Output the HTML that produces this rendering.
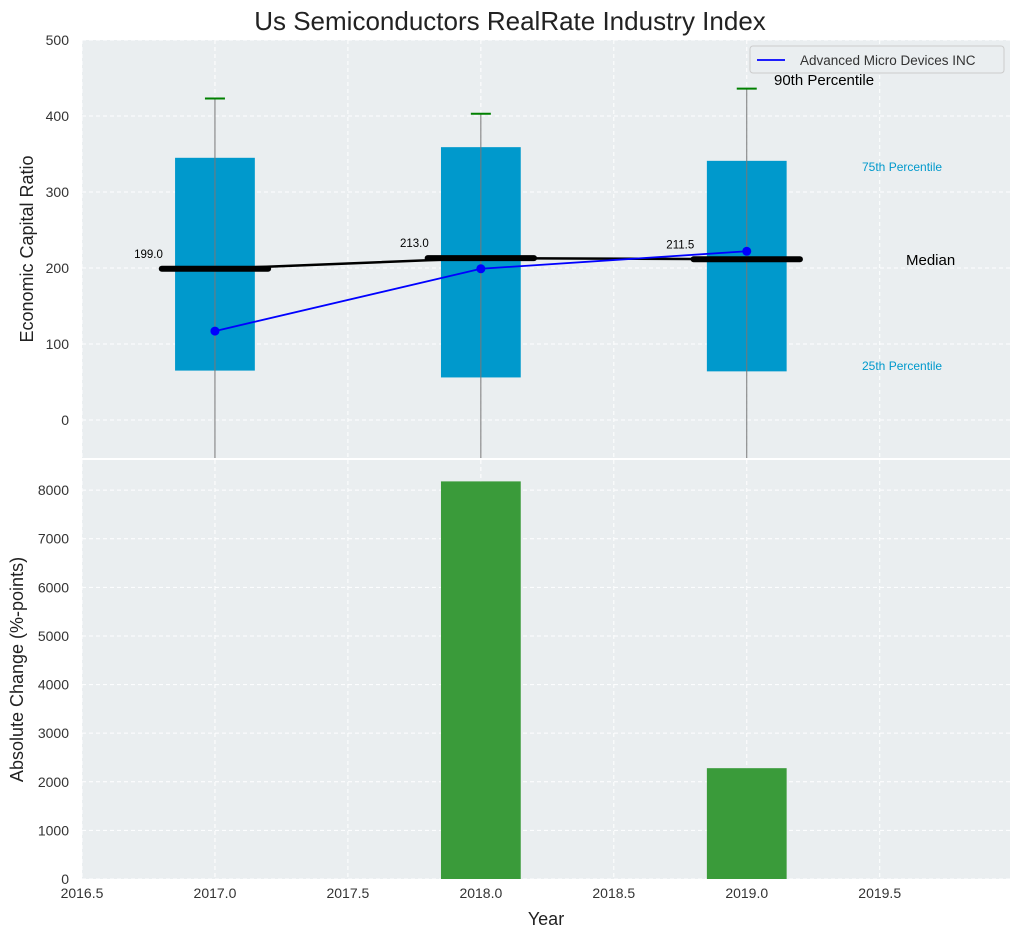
<!DOCTYPE html>
<html><head><meta charset="utf-8"><style>
body{margin:0;background:#fff;font-family:"Liberation Sans",sans-serif;}
svg text{font-family:"Liberation Sans",sans-serif;}
</style></head><body>
<svg id="c" width="1020" height="940" xmlns="http://www.w3.org/2000/svg">
<text x="510" y="30" font-size="26" text-anchor="middle" fill="#222">Us Semiconductors RealRate Industry Index</text>
<g id="topg"></g><g id="botg"></g>
</svg>
<script>
const years=[2017,2018,2019];
const q25=[65,56,64];
const q75=[345,359,341];
const p90=[423,403,436];
const p10=[-80,-80,-80];
const medians=[199,213,211.5];
const amd=[117,199,222];
const changes=[0,8180,2280];
const topTicks=[0,100,200,300,400,500];
const botTicks=[0,1000,2000,3000,4000,5000,6000,7000,8000];
const xTicks=[2016.5,2017,2017.5,2018,2018.5,2019,2019.5];

const NS="http://www.w3.org/2000/svg";
const L=82,R=1010,T1=40,B1=458,T2=460,B2=879;
const X=v=>L+(v-2016.5)/(2019.99-2016.5)*(R-L);
const Y1=v=>T1+(500-v)/(500-(-50))*(B1-T1);
const Y2=v=>B2-v/8620*(B2-T2);
function el(p,tag,a,txt){const e=document.createElementNS(NS,tag);for(const k in a)e.setAttribute(k,a[k]);if(txt!==undefined)e.textContent=txt;p.appendChild(e);return e;}
const gTop=document.getElementById('topg'),gBot=document.getElementById('botg');

let bg=el(gTop,'rect',{x:L,y:T1,width:R-L,height:B1-T1,fill:'#eaeef0'});


let bg2=el(gBot,'rect',{x:L,y:T2,width:R-L,height:B2-T2,fill:'#eaeef0'});



xTicks.forEach(t=>{
  [gTop,gBot].forEach((g,i)=>{el(g,'line',{x1:X(t),x2:X(t),y1:i?T2:T1,y2:i?B2:B1,stroke:'#fff','stroke-dasharray':'4,3','stroke-width':1});});
  let tl=el(gBot,'text',{x:X(t),y:B2+19,'font-size':14,'text-anchor':'middle',fill:'#333'},t.toFixed(1));
  
  
});
topTicks.forEach(t=>{
  el(gTop,'line',{x1:L,x2:R,y1:Y1(t),y2:Y1(t),stroke:'#fff','stroke-dasharray':'4,3'});
  let tl=el(gTop,'text',{x:L-13,y:Y1(t)+5,'font-size':14,'text-anchor':'end',fill:'#333'},t);
  
  
});
botTicks.forEach(t=>{
  el(gBot,'line',{x1:L,x2:R,y1:Y2(t),y2:Y2(t),stroke:'#fff','stroke-dasharray':'4,3'});
  let tl=el(gBot,'text',{x:L-13,y:Y2(t)+5,'font-size':14,'text-anchor':'end',fill:'#333'},t);
  
  
});

const hw=0.15;
years.forEach((y,i)=>{
  let b=el(gTop,'rect',{x:X(y-hw),y:Y1(q75[i]),width:X(y+hw)-X(y-hw),height:Y1(q25[i])-Y1(q75[i]),fill:'#0099cc'});
  
  
  let w=el(gTop,'line',{x1:X(y),x2:X(y),y1:Y1(p90[i]),y2:Math.min(B1,Y1(p10[i])),stroke:'#777','stroke-width':1});
  
  
  let c=el(gTop,'line',{x1:X(y)-10,x2:X(y)+10,y1:Y1(p90[i]),y2:Y1(p90[i]),stroke:'green','stroke-width':2});
  
  
});
let mp=years.map((y,i)=>X(y)+','+Y1(medians[i])).join(' ');
let ml=el(gTop,'polyline',{points:mp,fill:'none',stroke:'#000','stroke-width':2.5});


years.forEach((y,i)=>{
  let m=el(gTop,'line',{x1:X(y-0.2),x2:X(y+0.2),y1:Y1(medians[i]),y2:Y1(medians[i]),stroke:'#000','stroke-width':6,'stroke-linecap':'round'});
  
  
  let t=el(gTop,'text',{x:X(y-0.25),y:Y1(medians[i])-11,'font-size':11.5,'text-anchor':'middle',fill:'#000'},medians[i].toFixed(1));
  
  
});
let ap=years.map((y,i)=>X(y)+','+Y1(amd[i])).join(' ');
let al=el(gTop,'polyline',{points:ap,fill:'none',stroke:'blue','stroke-width':1.8});


years.forEach((y,i)=>{
  let p=el(gTop,'circle',{cx:X(y),cy:Y1(amd[i]),r:4.5,fill:'blue'});
  
  
});
[['90th Percentile',774,85,15,'#000','p90-annotation'],['75th Percentile',862,171,12,'#0099cc','p75-annotation'],['Median',906,265,15,'#000','median-annotation'],['25th Percentile',862,370,12,'#0099cc','p25-annotation']].forEach(a=>{
  let t=el(gTop,'text',{x:a[1],y:a[2],'font-size':a[3],fill:a[4]},a[0]);
  
  
});
let lg=el(gTop,'g',{});


el(lg,'rect',{x:750,y:46,width:254,height:27,fill:'#eaeef0',stroke:'#ccc',rx:3});
el(lg,'line',{x1:757,x2:785,y1:60,y2:60,stroke:'blue','stroke-width':1.8});
el(lg,'text',{x:800,y:65,'font-size':13.5,fill:'#333'},'Advanced Micro Devices INC');
years.forEach((y,i)=>{
  if(changes[i]<=0)return;
  let b=el(gBot,'rect',{x:X(y-hw),y:Y2(changes[i]),width:X(y+hw)-X(y-hw),height:Y2(0)-Y2(changes[i]),fill:'#3a9b3a'});
  
  
});
let yt=el(gTop,'text',{x:0,y:0,'font-size':18,'text-anchor':'middle',fill:'#222',transform:`translate(33,${(T1+B1)/2}) rotate(-90)`},'Economic Capital Ratio');


let yt2=el(gBot,'text',{x:0,y:0,'font-size':18,'text-anchor':'middle',fill:'#222',transform:`translate(23,${(T2+B2)/2}) rotate(-90)`},'Absolute Change (%-points)');


let xt=el(gBot,'text',{x:(L+R)/2,y:925,'font-size':18,'text-anchor':'middle',fill:'#222'},'Year');


</script>
</body></html>
